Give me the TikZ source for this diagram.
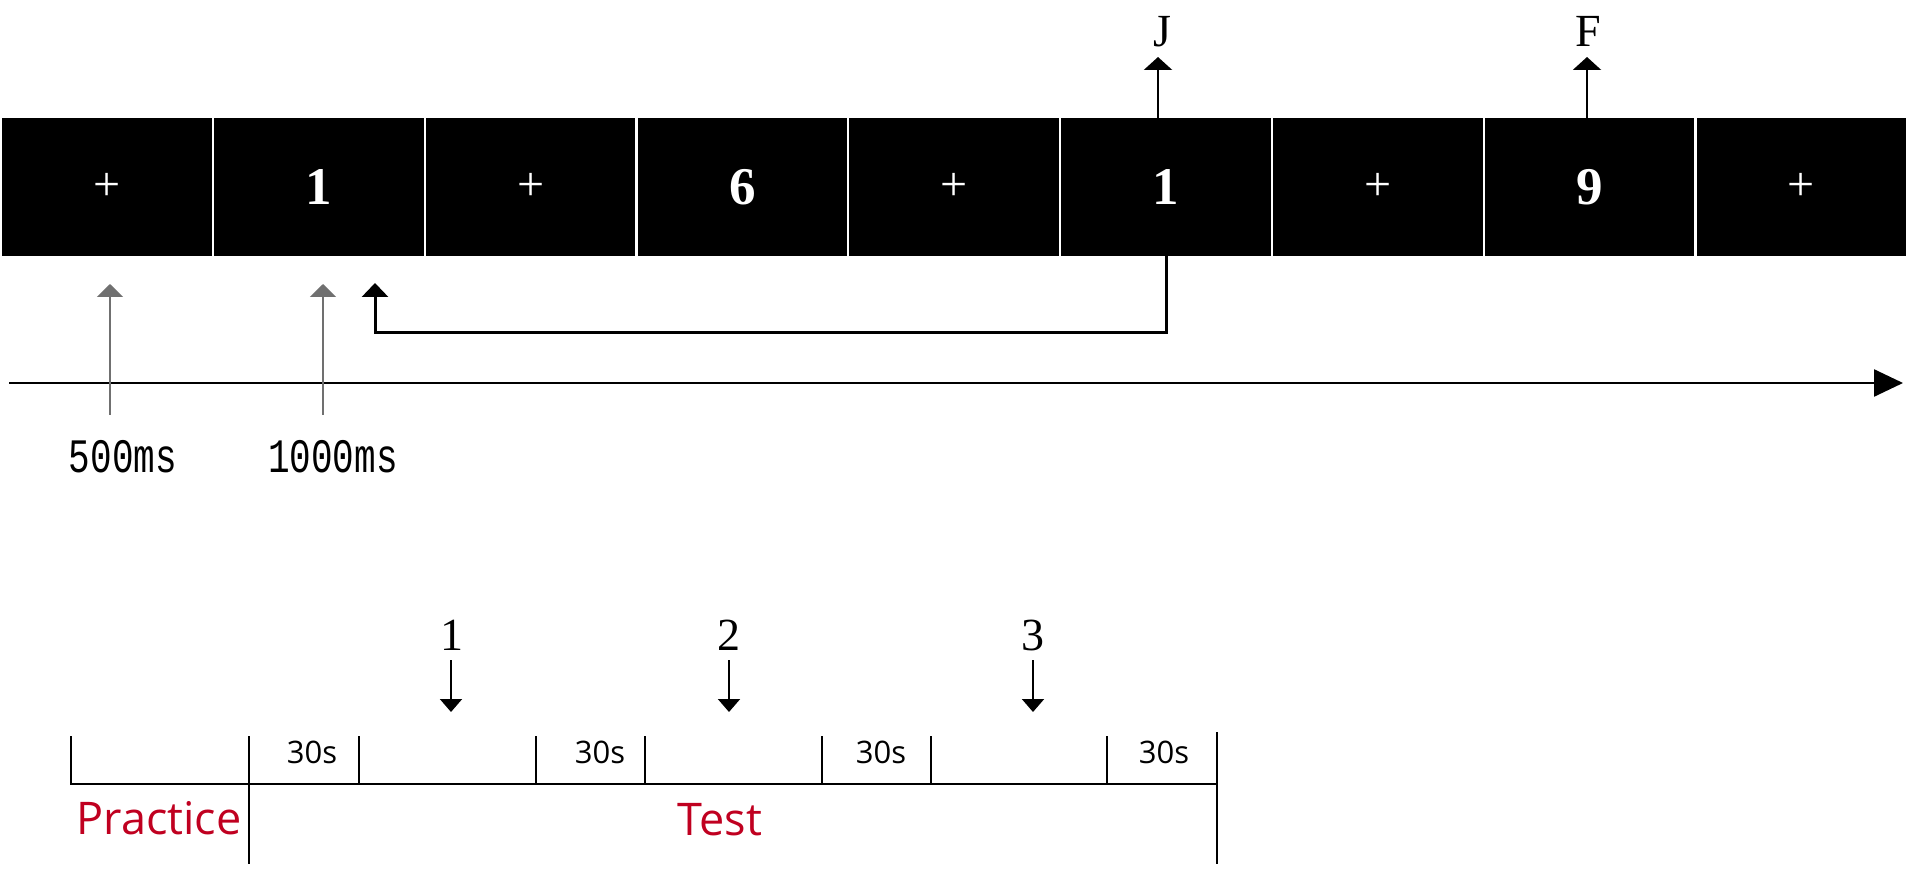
\documentclass[tikz,border=0pt]{standalone}
\usepackage{fontspec}
\usepackage{graphicx}
\setmainfont{Liberation Serif}
\newfontfamily\sansf{Open Sans}
\newfontfamily\monof{Liberation Mono}
\usetikzlibrary{arrows.meta}
\definecolor{redlab}{RGB}{192,0,32}
\definecolor{grayarr}{RGB}{112,112,112}
\begin{document}
\begin{tikzpicture}[x=1pt,y=-1pt,
  stim/.style={fill=black,minimum width=209.5pt,minimum height=138pt,inner sep=0pt,text=white,font=\bfseries\fontsize{53}{60}\selectfont},
  fix/.style={stim,font=\fontsize{48}{50}\selectfont},
  keylab/.style={font=\fontsize{46}{50}\selectfont,inner sep=0pt},
  tmlab/.style={font=\monof\fontsize{48}{52}\selectfont,inner sep=0pt},
  seglab/.style={font=\sansf\fontsize{31}{34}\selectfont,inner sep=0pt},
  phase/.style={font=\sansf\fontsize{45}{50}\selectfont,text=redlab,inner sep=0pt},
  tickline/.style={line width=2.5pt,line cap=rect},
  keyarrow/.style={line width=2.5pt,-{Triangle[width=28pt,length=13pt]}},
  elbowarrow/.style={line width=3pt,-{Triangle[width=26pt,length=14pt]}},
  grayarrow/.style={line width=2pt,draw=grayarr,-{Triangle[width=26pt,length=13pt]}},
  downarrow/.style={line width=2pt,-{Triangle[width=22pt,length=13pt]}}
]
\fill[white] (0,0) rectangle (1909,874);
\useasboundingbox (0,0) rectangle (1909,874);

% stimulus boxes
\node[fix]  (b1) at (107,187)    {+};
\node[stim] (b2) at (318.8,187)  {1};
\node[fix]  (b3) at (530.6,187)  {+};
\node[stim] (b4) at (742.4,187)  {6};
\node[fix]  (b5) at (954.2,187)  {+};
\node[stim] (b6) at (1166,187)   {1};
\node[fix]  (b7) at (1377.8,187) {+};
\node[stim] (b8) at (1589.6,187) {9};
\node[fix]  (b9) at (1801.4,187) {+};

% key responses
\node[keylab] (J) at (1162,32) {J};
\node[keylab] (F) at (1588,31) {F};
\coordinate (jtip) at (1158,57);
\coordinate (ftip) at (1587,57);
\draw[keyarrow] ([xshift=-8pt]b6.north) -- (jtip);
\draw[keyarrow] ([xshift=-2.6pt]b8.north) -- (ftip);

% comparison elbow
\coordinate (etip) at (375,283);
\draw[elbowarrow,line cap=rect] (b6.south) -- ++(0,76) -| (etip);

% timeline
\coordinate (tl0) at (9,383);
\coordinate (tl1) at (1903,383);
\draw[line width=2.5pt,-{Triangle[width=27pt,length=29pt]}] (tl0) -- (tl1);

% timing markers
\node[tmlab] (t500) at (123,457) {\scalebox{0.75}[1]{500ms}};
\node[tmlab] (t1000) at (333,457) {\scalebox{0.75}[1]{1000ms}};
\coordinate (g1s) at (110,415);
\coordinate (g1t) at (110,284);
\coordinate (g2s) at (323,415);
\coordinate (g2t) at (323,284);
\draw[grayarrow] (g1s) -- (g1t);
\draw[grayarrow] (g2s) -- (g2t);

% bottom block timeline
\draw[tickline] (71,737) -- (71,784) -- (1217,784);
\foreach \x in {359,536,645,822,931,1107} \draw[tickline] (\x,737) -- (\x,784);
\draw[tickline] (249,737) -- (249,863);
\draw[tickline] (1217,733) -- (1217,863);

\node[seglab] (s1) at (312,752) {30s};
\node[seglab] (s2) at (600,752) {30s};
\node[seglab] (s3) at (881,752) {30s};
\node[seglab] (s4) at (1164,752) {30s};

\node[keylab] (n1) at (452,635) {1};
\node[keylab] (n2) at (729,635) {2};
\node[keylab] (n3) at (1033,635) {3};
\coordinate (a1) at (451,712);
\coordinate (a2) at (729,712);
\coordinate (a3) at (1033,712);
\draw[downarrow] (a1 |- 0,660) -- (a1);
\draw[downarrow] (a2 |- 0,660) -- (a2);
\draw[downarrow] (a3 |- 0,660) -- (a3);

\node[phase] (prac) at (159,818) {Practice};
\node[phase] (test) at (720,820) {Test};
\end{tikzpicture}
\end{document}
